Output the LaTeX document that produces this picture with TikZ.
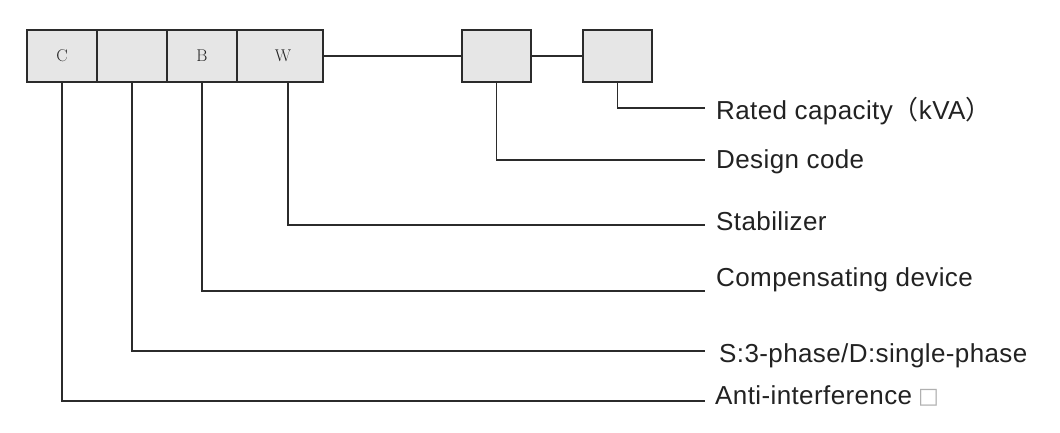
\documentclass[tikz,border=0pt]{standalone}
\usepackage{fontspec}
\newfontfamily\labfont[LetterSpace=1.5]{Liberation Sans}
\newfontfamily\cjkfont{Noto Sans CJK SC}
\newfontfamily\symfont{DejaVu Sans}
\definecolor{boxfill}{HTML}{E6E6E6}
\definecolor{boxline}{HTML}{2B2B2B}
\definecolor{wirecol}{HTML}{2B2B2B}
\definecolor{txt}{HTML}{222222}
\definecolor{tofu}{HTML}{B0B0B0}
\begin{document}
\begin{tikzpicture}[x=1pt,y=-1pt,
  codebox/.style={draw=boxline, fill=boxfill, line width=1.6pt, minimum height=52pt, inner sep=0pt, font=\fontsize{17}{17}\selectfont, text=txt},
  wire/.style={line width=1.4pt, draw=wirecol},
  lab/.style={anchor=base west, inner sep=0pt, font=\labfont\fontsize{26}{26}\selectfont, text=txt}]
\useasboundingbox (0,0) rectangle (1060,432);
\fill[white] (0,0) rectangle (1060,432);
% code boxes
\node[codebox, minimum width=70pt] (c) at (62,56) {C};
\node[codebox, minimum width=70pt] (s) at (132,56) {};
\node[codebox, minimum width=70pt] (b) at (202,56) {B};
\node[codebox, minimum width=86pt] (w) at (280,56) {\hspace{6pt}W};
\node[codebox, minimum width=69pt] (d) at (496.5,56) {};
\node[codebox, minimum width=69pt] (r) at (617.5,56) {};
\draw[wire] (w.east) -- (d.west);
\draw[wire] (d.east) -- (r.west);
% line ends
\coordinate (eR) at (705,108);
\coordinate (eD) at (705,160);
\coordinate (eW) at (705,225);
\coordinate (eB) at (705,291);
\coordinate (eS) at (705,351);
\coordinate (eC) at (705,401);
\draw[wire] (r.south) |- (eR);
\draw[wire] (d.south) |- (eD);
\draw[wire] ([xshift=8pt]w.south) |- (eW);
\draw[wire] (b.south) |- (eB);
\draw[wire] (s.south) |- (eS);
\draw[wire] (c.south) |- (eC);
% labels
\node[lab] (tR) at (716,119) {Rated capacity{\cjkfont （}kVA{\cjkfont ）}};
\node[lab] (tD) at (716,168) {Design code};
\node[lab] (tW) at (716,230) {Stabilizer};
\node[lab] (tB) at (716,286) {Compensating device};
\node[lab] (tS) at (719,362) {S:3-phase/D:single-phase};
\node[lab] (tC) at (715,404) {Anti-interference\hspace{6pt}{\symfont\fontsize{22}{22}\selectfont\color{tofu}\raisebox{1pt}{□}}};
\end{tikzpicture}
\end{document}
